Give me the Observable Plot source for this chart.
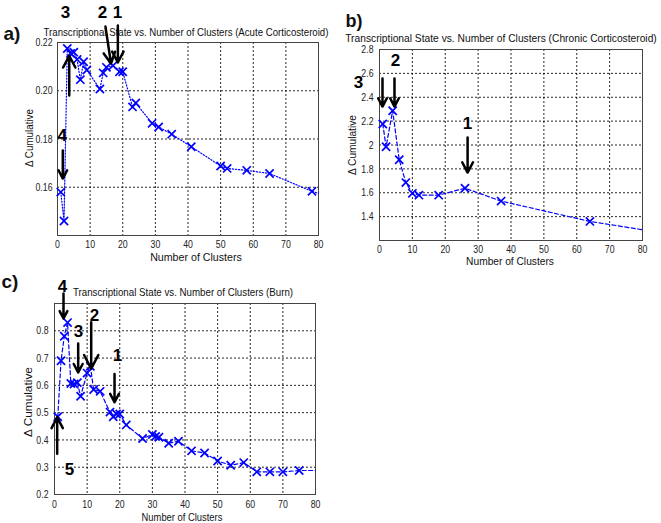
<!DOCTYPE html>
<html><head><meta charset="utf-8">
<script src="https://cdn.jsdelivr.net/npm/d3@7"></script>
<script src="https://cdn.jsdelivr.net/npm/@observablehq/plot@0.6"></script>
<style>
body{margin:0;background:#fff;}
#fig{position:relative;width:661px;height:523px;overflow:hidden;font-family:"Liberation Sans",Arial,sans-serif;background:#fff;}
.pan{position:absolute;}
.lbl{position:absolute;white-space:nowrap;color:#111;line-height:1;}
</style></head><body><div id="fig"></div>
<script>
// ---------- data ----------
const xTicks = [0, 10, 20, 30, 40, 50, 60, 70, 80];

// a) Acute Corticosteroid
const aClusters = [1, 2, 3, 4, 5, 6, 7, 8, 9, 13, 14, 15, 17, 19, 20, 23, 24, 29, 31, 35, 41, 50, 52, 58, 65, 78];
const aDelta = [0.158, 0.146, 0.2175, 0.2155, 0.216, 0.213, 0.2046, 0.212, 0.2086, 0.2007, 0.2074, 0.2097, 0.2104, 0.2079, 0.2079, 0.1933, 0.1949, 0.1865, 0.185, 0.182, 0.1768, 0.1688, 0.1678, 0.167, 0.1657, 0.1583];
const aEdge = {x: 80, y: 0.1575};
const aYTicks = [0.16, 0.18, 0.20, 0.22];

// b) Chronic Corticosteroid
const bClusters = [1, 2, 4, 6, 8, 10, 12, 18, 26, 37, 64];
const bDelta = [2.176, 1.985, 2.287, 1.876, 1.685, 1.595, 1.58, 1.58, 1.638, 1.53, 1.36];
const bEdge = {x: 80, y: 1.29};
const bYTicks = [1.4, 1.6, 1.8, 2.0, 2.2, 2.4, 2.6, 2.8];

// c) Burn
const cClusters = [1, 2, 3, 4, 5, 6, 7, 8, 10, 11, 12, 14, 17, 18, 19, 20, 22, 27, 30, 31, 32, 35, 38, 42, 46, 50, 54, 58, 62, 66, 70, 75];
const cDelta = [0.485, 0.69, 0.78, 0.83, 0.607, 0.605, 0.61, 0.56, 0.645, 0.67, 0.585, 0.578, 0.502, 0.485, 0.495, 0.495, 0.455, 0.405, 0.42, 0.413, 0.41, 0.388, 0.395, 0.36, 0.352, 0.323, 0.307, 0.317, 0.283, 0.283, 0.283, 0.288];
const cEdge = {x: 80, y: 0.288};
const cYTicks = [0.2, 0.3, 0.4, 0.5, 0.6, 0.7, 0.8];

// annotations (chart units)
const aNumbers = [{t: "3", x: 2.45, y: 0.2324}, {t: "2", x: 13.8, y: 0.2324}, {t: "1", x: 18.4, y: 0.2324}, {t: "4", x: 1.44, y: 0.1815}];
const aArrows = [
  {x1: 3.6, y1: 0.198, x2: 3.6, y2: 0.2145},
  {x1: 14.7, y1: 0.2266, x2: 16.4, y2: 0.2113},
  {x1: 18.5, y1: 0.2270, x2: 18.5, y2: 0.2117},
  {x1: 1.63, y1: 0.1752, x2: 1.63, y2: 0.1636}
];
const bNumbers = [{t: "3", x: -6.4, y: 2.523}, {t: "2", x: 4.87, y: 2.708}, {t: "1", x: 26.8, y: 2.179}];
const bArrows = [
  {x1: 0.91, y1: 2.557, x2: 0.91, y2: 2.322},
  {x1: 4.56, y1: 2.557, x2: 4.56, y2: 2.322},
  {x1: 26.8, y1: 2.062, x2: 26.8, y2: 1.769}
];
const cNumbers = [{t: "4", x: 2.45, y: 0.962}, {t: "3", x: 7.35, y: 0.797}, {t: "2", x: 12.26, y: 0.856}, {t: "1", x: 19.3, y: 0.709}, {t: "5", x: 4.6, y: 0.292}];
const cArrows = [
  {x1: 2.76, y1: 0.937, x2: 2.76, y2: 0.845},
  {x1: 7.26, y1: 0.753, x2: 7.26, y2: 0.647},
  {x1: 11.25, y1: 0.831, x2: 11.25, y2: 0.661},
  {x1: 18.4, y1: 0.642, x2: 18.4, y2: 0.538},
  {x1: 0.82, y1: 0.349, x2: 0.82, y2: 0.483}
];

const titles = {
  a: "Transcriptional State vs. Number of Clusters (Acute Corticosteroid)",
  b: "Transcriptional State vs. Number of Clusters (Chronic Corticosteroid)",
  c: "Transcriptional State vs. Number of Clusters (Burn)"
};
const xLabel = "Number of Clusters";
const yLabel = "\u0394 Cumulative";

// ---------- drawing ----------
const fig = document.getElementById("fig");
const zip = (xs, ys) => xs.map((x, i) => ({x, y: ys[i]}));

function panel(o) {
  const pts = zip(o.xs, o.ys);
  const linePts = pts.concat([o.edge]);
  const p = Plot.plot({
    width: o.w, height: o.h,
    marginLeft: o.m[3], marginRight: o.m[1], marginTop: o.m[0], marginBottom: o.m[2],
    x: {domain: [0, 80]},
    y: {domain: o.yDomain},
    style: {fontFamily: "Liberation Sans, Arial, sans-serif", fontSize: "11.5px", color: "#222", background: "transparent", overflow: "visible"},
    marks: [
      Plot.gridX(xTicks.slice(1, -1), {stroke: "#000", strokeOpacity: 0.85, strokeDasharray: "2,2", strokeWidth: 1}),
      Plot.gridY(o.gridY, {stroke: "#000", strokeOpacity: 0.85, strokeDasharray: "2,2", strokeWidth: 1}),
      Plot.frame({stroke: "#444"}),
      Plot.axisX(xTicks, {tickSize: 0, tickPadding: o.xPad, label: null}),
      Plot.axisY(o.yTicks, {tickSize: 0, tickPadding: o.yPad, tickFormat: o.fmt, label: null}),
      Plot.line(linePts, {x: "x", y: "y", stroke: "#0000ff", strokeWidth: 1.2, strokeDasharray: o.dash}),
      Plot.dot(pts, {x: "x", y: "y", symbol: "times", r: 3.8, stroke: "#0000ff", strokeWidth: 1.7}),
      Plot.arrow(o.arrows, {x1: "x1", y1: "y1", x2: "x2", y2: "y2", stroke: "#000", strokeWidth: 2.5, headLength: 10, headAngle: 55}),
      Plot.text(o.numbers, {x: "x", y: "y", text: "t", fontSize: 17, fontWeight: "bold", fill: "#000"})
    ]
  });
  p.classList.add("pan");
  p.style.left = o.left + "px";
  p.style.top = o.top + "px";
  fig.appendChild(p);
  p.querySelectorAll('g[aria-label$="tick label"] text').forEach(t => {
    const L = t.getComputedTextLength();
    t.setAttribute("textLength", (L * 0.76).toFixed(2));
    t.setAttribute("lengthAdjust", "spacingAndGlyphs");
  });
  return p;
}

panel({xs: aClusters, ys: aDelta, edge: aEdge, yDomain: [0.14, 0.22], yTicks: aYTicks, gridY: [0.16, 0.18, 0.20],
  fmt: d3.format(".2f"), dash: "1.2,1.8", arrows: aArrows, numbers: aNumbers,
  w: 330, h: 260, m: [42, 12, 25, 57], left: 0, top: 0, xPad: 4, yPad: 5});
panel({xs: bClusters, ys: bDelta, edge: bEdge, yDomain: [1.2, 2.8], yTicks: bYTicks, gridY: [1.4, 1.6, 1.8, 2.0, 2.2, 2.4, 2.6],
  fmt: d3.format("~g"), dash: "4,2.5", arrows: bArrows, numbers: bNumbers,
  w: 331, h: 270, m: [49, 19, 30, 49], left: 330, top: 0, xPad: 4, yPad: 6});
panel({xs: cClusters, ys: cDelta, edge: cEdge, yDomain: [0.2, 0.9], yTicks: cYTicks, gridY: [0.3, 0.4, 0.5, 0.6, 0.7, 0.8],
  fmt: d3.format(".1f"), dash: "4,2.5", arrows: cArrows, numbers: cNumbers,
  w: 330, h: 263, m: [43, 15, 29, 54], left: 0, top: 260, xPad: 5, yPad: 6});

function place(txt, cx, cy, size, targetW, bold, rot) {
  const d = document.createElement("div");
  d.className = "lbl";
  d.textContent = txt;
  d.style.fontSize = size + "px";
  if (bold) d.style.fontWeight = "bold";
  d.style.left = cx + "px";
  d.style.top = cy + "px";
  fig.appendChild(d);
  const s = targetW ? targetW / d.offsetWidth : 1;
  d.style.transform = `translate(-50%,-50%)${rot ? " rotate(-90deg)" : ""} scaleX(${s.toFixed(3)})`;
}

place(titles.a, 186, 32, 11, 285);
place(titles.b, 501, 38, 11, 312);
place(titles.c, 183, 292, 11, 220);
place(xLabel, 196, 257, 11, 92);
place(xLabel, 510, 261, 11, 88);
place(xLabel, 182, 517, 11, 81);
place(yLabel, 29, 138, 11, 58, false, true);
place(yLabel, 352, 145, 11, 60, false, true);
place(yLabel, 28, 402, 11, 70, false, true);
place("a)", 12, 33, 19, 0, true);
place("b)", 354, 21, 18, 0, true);
place("c)", 10, 281, 19, 0, true);
</script></body></html>
